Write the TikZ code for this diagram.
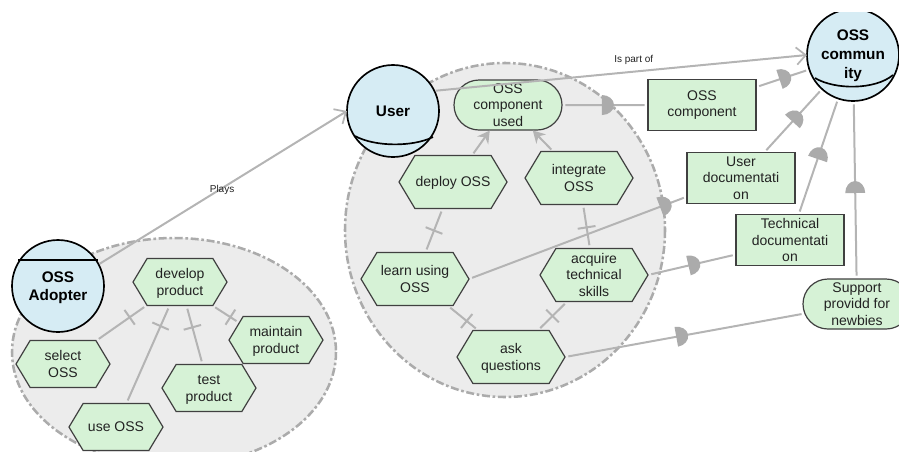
\documentclass[tikz,border=0pt]{standalone}
\usepackage{fontspec}
\setmainfont{Liberation Sans}
\usetikzlibrary{shapes.symbols,shapes.misc,arrows.meta,decorations.markings}
\definecolor{tiecol}{HTML}{B4B4B4}
\definecolor{markcol}{HTML}{ABABAB}
\definecolor{leaf}{HTML}{D6F2D6}
\definecolor{edgecol}{HTML}{404040}
\definecolor{actorfill}{HTML}{D6ECF4}
\definecolor{bndfill}{HTML}{ECECEC}
\definecolor{bndline}{HTML}{ABABAB}
\definecolor{txtcol}{HTML}{222222}
\newcommand{\lowtext}[2][1.2pt]{\raisebox{-#1}[\height][\depth]{\begin{tabular}{@{}c@{}}#2\end{tabular}}}
\tikzset{
  x=.75pt,y=-.75pt,
  base/.style={inner sep=0pt,outer sep=0pt,fill=leaf,draw=edgecol,line width=.9pt,text=txtcol,
    font=\fontsize{10.5pt}{12.5pt}\selectfont},
  hexbase/.style={base,shape=signal,signal to=east and west,signal pointer angle=118},
  hexsmall/.style={hexbase,minimum width=70.5pt,minimum height=35.25pt},
  hexlarge/.style={hexbase,minimum width=81pt,minimum height=39.75pt},
  resbox/.style={base,align=center,rectangle,minimum width=81pt,minimum height=38pt},
  pill/.style={base,align=center,rounded rectangle,minimum width=81pt,minimum height=37.5pt},
  actor/.style={circle,draw=black,fill=actorfill,line width=1.25pt,minimum size=69pt,inner sep=0pt,outer sep=0pt,
    font=\fontsize{11.5pt}{14pt}\selectfont\bfseries},
  actorarc/.style={draw=black,line width=1.25pt},
  boundary/.style={draw=bndline,fill=bndfill,line width=1.9pt,dash pattern=on 6pt off 2pt on 2pt off 2pt},
  tie/.style={draw=tiecol,line width=1.5pt,shorten >=2.5pt,shorten <=2.5pt},
  crossat/.style={tie,postaction={decorate},decoration={markings,mark=at position #1 with {
     \draw[draw=tiecol,line width=1.5pt,shorten >=0pt,shorten <=0pt] (0pt,-6.75pt)--(0pt,6.75pt);}}},
  depat/.style={tie,postaction={decorate},decoration={markings,mark=at position #1 with {
     \fill[markcol] (0pt,-7.5pt) arc[start angle=-90,end angle=90,x radius=9pt,y radius=7.5pt] -- cycle;}}},
  meansend/.style={draw=tiecol,line width=1.5pt,shorten <=2pt,shorten >=.5pt,-{Stealth[length=9pt,width=10pt]}},
  openlink/.style={draw=tiecol,line width=1.5pt,-{Straight Barb[length=7pt,width=13pt,line width=1.3pt]}},
  linklabel/.style={font=\fontsize{7.5pt}{9pt}\selectfont,text=txtcol,inner sep=0pt}
}
\begin{document}
\begin{tikzpicture}
\useasboundingbox (0,0) rectangle (899,451);
\begin{scope}
\clip (0,12) rectangle (899,451);
% boundaries
\path[boundary] (174,352) ellipse [x radius=162,y radius=114];
\path[boundary] (505,230) ellipse [x radius=160,y radius=167];
% actors
\node[actor] (adp) at (58,286) {\lowtext{OSS\\Adopter}};
\node[actor] (usr) at (393,111) {User};
\node[actor] (comm) at (853,55) {\lowtext[.5pt]{OSS\\commun\\ity}};
\draw[actorarc] (18,260) -- (98,260);
\draw[actorarc] (355,136) .. controls (375,147) and (413,147) .. (433,137);
\draw[actorarc] (815,78) .. controls (835,90) and (875,90) .. (893,75);
% goals and tasks
\node[hexsmall] (dev) at (180,282) {\lowtext{develop\\product}};
\node[hexsmall] (sel) at (63,364) {\lowtext{select\\OSS}};
\node[hexsmall] (use) at (116,427) {\lowtext{use OSS}};
\node[hexsmall] (tst) at (209,388) {\lowtext{test\\product}};
\node[hexsmall] (mnt) at (276,340) {\lowtext{maintain\\product}};
\node[hexlarge] (dep) at (453,182) {\lowtext{deploy OSS}};
\node[hexlarge] (int) at (579,178) {\lowtext{integrate\\OSS}};
\node[hexlarge] (lrn) at (415,279) {\lowtext{learn using\\OSS}};
\node[hexlarge] (acq) at (594,275) {\lowtext{acquire\\technical\\skills}};
\node[hexlarge] (ask) at (511,357) {\lowtext{ask\\questions}};
\node[pill] (used) at (508,105) {OSS\\component\\used};
\node[resbox] (comp) at (702,105) {OSS\\component};
\node[resbox] (udoc) at (741,178) {User\\documentati\\on};
\node[resbox] (tdoc) at (790,240) {Technical\\documentati\\on};
\node[pill] (sup) at (857,304) {Support\\providd for\\newbies};
% links between actors
\draw[openlink,shorten <=1pt] (adp.28) -- node[linklabel,pos=.497,yshift=-1pt] {Plays} (usr.180);
\draw[openlink,shorten <=1pt] (usr.26) -- node[linklabel,pos=.535,yshift=9pt] {Is part of} (comm.180);
% decompositions
\draw[crossat=.34] (dev) -- (sel);
\draw[crossat=.21] (dev) -- (use);
\draw[crossat=.37] (dev) -- (tst);
\draw[crossat=.67] (dev.-36) -- (mnt.155);
\draw[crossat=.5] (dep) -- (lrn);
\draw[crossat=.52] (int) -- (acq);
\draw[crossat=.62] (lrn) -- (ask);
\draw[crossat=.5] (acq) -- (ask);
% means-ends
\draw[meansend] (dep) -- (used);
\draw[meansend] (int) -- (used);
% dependencies
\draw[depat=.465] (used) -- (comp);
\draw[depat=.44] (comp) -- (comm);
\draw[depat=.49] (udoc) -- (comm);
\draw[depat=.48] (tdoc) -- (comm);
\draw[depat=.483] (sup) -- (comm);
\draw[depat=.876] (lrn.east) -- (udoc.199);
\draw[depat=.46] (acq.east) -- (tdoc.195);
\draw[depat=.464] (ask.east) -- (sup);
\end{scope}
\end{tikzpicture}
\end{document}
